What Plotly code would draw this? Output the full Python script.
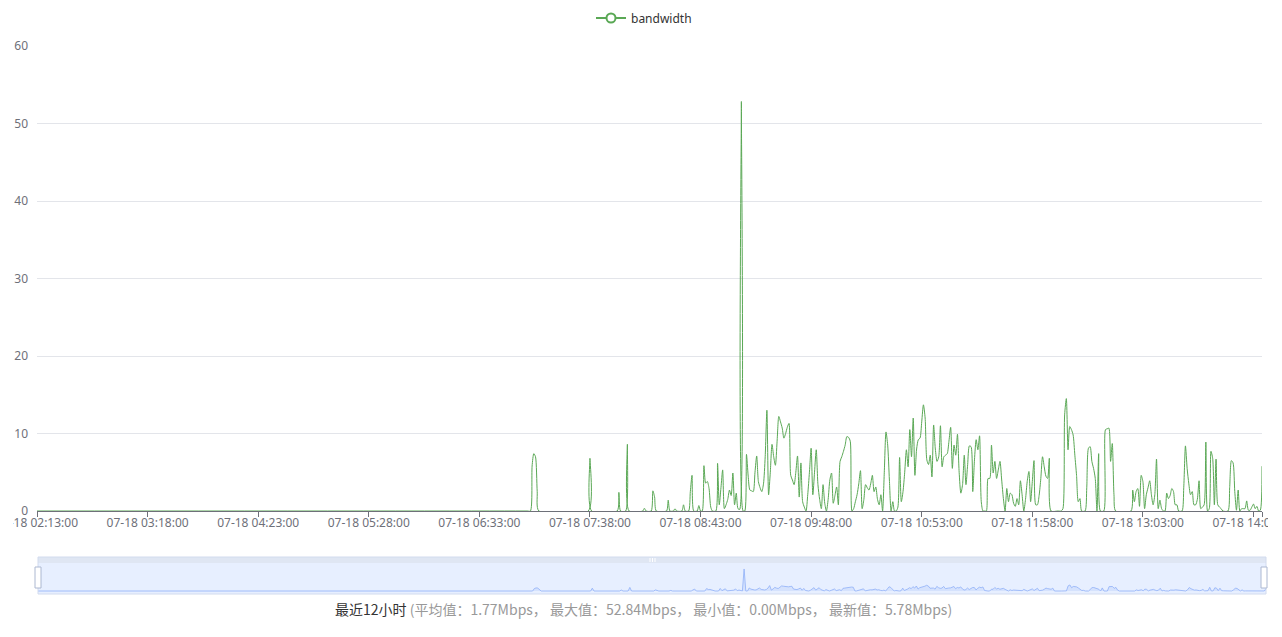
import pandas as pd
import plotly.graph_objects as go

# ---------------- data ----------------
start_time = "2023-07-18 02:13:00"
minutes = [
    0, 288, 290, 291, 292, 293, 294, 295,
    324, 325, 326, 341, 342, 343, 346, 347, 348, 356, 357, 358,
    361, 362, 363, 364, 370, 371, 372, 374, 375, 376, 379, 380, 381,
    383, 384, 385, 386, 388, 389, 390,
    391, 392, 393, 394, 395, 396, 397, 399, 400, 401, 402, 403, 404, 405,
    406, 407, 408, 409, 410, 411, 412, 413, 414, 415, 416, 417, 418, 419,
    420, 421, 422, 423, 424, 425, 426, 427, 428, 429, 430, 431, 432, 433,
    434, 435, 436, 437, 438, 439, 440, 441, 442, 443, 444, 445, 446, 447,
    448, 449, 450, 451, 452, 453, 454, 455, 456, 457, 458, 459, 460, 461,
    462, 463, 464, 465, 466, 467, 468, 469, 470, 471, 472, 473, 474, 475,
    476, 477, 478, 479, 480, 481, 482, 483, 484, 485, 486, 487, 488, 489,
    490, 491, 492, 493, 494, 495, 496, 497, 498, 499, 500, 501, 502, 503,
    504, 505, 506, 507, 508, 509, 510, 511, 512, 513, 514, 515, 516, 517,
    518, 519, 520, 521, 522, 523, 524, 525, 526, 527, 528, 529, 530, 531,
    532, 533, 534, 535, 536, 537, 538, 539, 540, 541, 542, 543, 544, 545,
    546, 547, 548, 549, 550, 551, 552, 553, 554, 555, 556, 557, 558, 559,
    560, 561, 562, 563, 564, 565, 566, 567, 568, 569, 570, 571, 572, 573,
    574, 575, 576, 577, 578, 579, 580, 581, 582, 583, 584, 585, 586, 587,
    588, 589, 590, 591, 592, 593, 594, 595, 596, 600, 602, 603, 604, 605,
    606, 607, 608, 609, 610, 611, 612, 613, 614, 616, 617, 618, 619, 620,
    621, 622, 623, 624, 625, 627, 628, 629, 630, 631, 632, 633, 634, 643,
    644, 645, 646, 647, 648, 649, 650, 651, 652, 653, 654, 655, 656, 657,
    658, 659, 660, 661, 662, 663, 664, 665, 666, 667, 668, 669, 670, 671,
    673, 674, 675, 676, 677, 678, 679, 680, 681, 682, 683, 684, 685, 686,
    687, 688, 689, 690, 691, 692, 693, 694, 695, 696, 697, 700, 701, 702,
    703, 704, 705, 706, 707, 708, 709, 710, 711, 712, 713, 714, 715, 716,
    717, 718, 719, 720,
]
bandwidth = [
    0, 0, 0, 5.8, 7.4, 7.0, 2.5, 0,
    0, 6.8, 0, 0, 2.4, 0, 0, 8.6, 0, 0, 0.35, 0,
    0, 2.6, 1.8, 0, 0, 1.4, 0, 0, 0.3, 0, 0, 0.8, 0,
    0, 2.5, 4.6, 0, 0, 0.7, 0,
    0, 5.85, 3.6, 3.8, 2.9, 0.5, 0, 0, 6.15, 0.8, 3.0, 5.3, 0.3, 0.8,
    1.5, 2.7, 2.0, 4.9, 0.8, 2.3, 0.3, 0.2, 52.84, 0, 0, 7.3, 4.5, 2.7,
    2.6, 2.5, 5.0, 7.1, 3.8, 3.0, 2.5, 3.5, 7.0, 13.0, 2.1, 5.0, 8.6, 7.0,
    5.9, 9.0, 12.2, 11.5, 10.7, 9.4, 10.0, 10.8, 11.3, 4.6, 4.0, 3.4, 5.0, 7.1,
    1.8, 6.2, 1.2, 0.5, 0, 2.1, 5.0, 8.1, 2.1, 5.0, 7.9, 3.4, 1.5, 0.3,
    3.4, 1.0, 0, 1.5, 4.0, 4.9, 1.0, 2.0, 3.1, 0.8, 6.4, 7.0, 7.7, 8.5,
    9.6, 9.5, 9.0, 0, 0.3, 1.2, 2.1, 3.5, 5.2, 0.3, 1.5, 3.4, 3.0, 2.7,
    3.5, 4.6, 2.5, 3.1, 1.5, 0.8, 2.1, 0, 5.0, 10.2, 8.5, 4.0, 0, 1.2,
    0, 0, 0.5, 6.9, 1.2, 2.5, 5.0, 7.9, 5.7, 10.5, 7.0, 12.0, 4.6, 8.0,
    9.2, 9.4, 11.5, 13.7, 12.0, 6.6, 6.0, 7.2, 4.4, 11.1, 8.0, 6.4, 7.0, 11.0,
    5.7, 7.0, 7.2, 7.4, 9.0, 10.8, 5.5, 8.5, 7.2, 9.9, 5.0, 2.3, 3.4, 7.2,
    3.4, 6.0, 8.4, 8.3, 2.5, 6.6, 9.2, 7.9, 9.7, 1.2, 0, 0, 0, 4.2,
    4.2, 8.5, 4.9, 6.4, 4.2, 5.3, 6.4, 4.0, 1.6, 0, 2.9, 1.2, 2.3, 2.1,
    1.0, 0.6, 1.6, 0.8, 3.9, 2.1, 0, 1.5, 3.8, 5.1, 1.2, 3.8, 6.5, 0.8,
    0.8, 2.0, 4.2, 7.0, 5.7, 4.5, 4.2, 6.8, 0, 0, 0, 0.3, 12.4, 14.5,
    7.9, 10.9, 10.5, 9.8, 7.2, 4.6, 1.2, 1.6, 0, 0, 3.0, 8.1, 8.3, 6.4,
    5.5, 4.2, 0, 7.4, 0, 0, 10.5, 10.6, 10.7, 6.4, 8.7, 2.1, 0, 0,
    2.7, 1.2, 2.5, 2.9, 0.6, 4.6, 3.8, 0.3, 2.1, 3.0, 3.9, 2.1, 0.8, 2.1,
    6.7, 0.3, 1.4, 0.3, 0, 0, 2.3, 1.6, 2.0, 2.9, 2.5, 0.8, 0.8, 0,
    0, 3.0, 8.4, 5.5, 3.5, 2.1, 2.5, 0.8, 0.8, 1.5, 3.9, 0.3, 0.5, 0.8,
    8.9, 0, 0.3, 7.7, 6.8, 0.8, 6.7, 0.8, 0.5, 0.3, 0, 0, 3.0, 6.5,
    6.2, 2.5, 0.1, 2.7, 0, 0.3, 0.3, 0.3, 1.3, 0.1, 0.1, 0.5, 0.9, 0.3,
    0.6, 0, 0.1, 5.78,
]
tick_minutes = [0, 65, 130, 195, 260, 325, 390, 455, 520, 585, 650, 715, 720]
tick_labels = ["07-18 02:13:00", "07-18 03:18:00", "07-18 04:23:00", "07-18 05:28:00",
               "07-18 06:33:00", "07-18 07:38:00", "07-18 08:43:00", "07-18 09:48:00",
               "07-18 10:53:00", "07-18 11:58:00", "07-18 13:03:00", "07-18 14:08:00", ""]
y_ticks = [0, 10, 20, 30, 40, 50, 60]
series_name = "bandwidth"
period_label = "最近12小时"
stat_avg, stat_max, stat_min, stat_latest = "1.77", "52.84", "0.00", "5.78"

# ---------------- build ----------------
t0 = pd.Timestamp(start_time)
times = [t0 + pd.Timedelta(minutes=m) for m in minutes]
tick_times = [t0 + pd.Timedelta(minutes=m) for m in tick_minutes]
x_range = [times[0], times[-1]]

W, H = 1282, 637
L, R, T, B = 37, 16, 46, 43        # paper spans px 37..1266 , 46..594
PW, PH = W - L - R, H - T - B


def fx(px):
    return (px - L) / PW


def fy(py):
    return (H - B - py) / PH


LINE = "#5aa855"
AXC = "#6e7079"
FONT = "Noto Sans, Noto Sans CJK SC, sans-serif"

fig = go.Figure()
fig.add_trace(go.Scatter(
    x=times, y=bandwidth, mode="lines", name=series_name, showlegend=False,
    line=dict(color=LINE, width=1, shape="spline", smoothing=0.7),
    xaxis="x", yaxis="y", hoverinfo="x+y"))
# legend entry (line + hollow circle)
fig.add_trace(go.Scatter(
    x=[None], y=[None], mode="lines+markers", name=series_name,
    line=dict(color=LINE, width=2),
    marker=dict(symbol="circle", size=9, color="#ffffff", line=dict(color=LINE, width=2)),
    xaxis="x", yaxis="y"))
# data-zoom mini chart
fig.add_trace(go.Scatter(
    x=times, y=bandwidth, mode="lines", showlegend=False, hoverinfo="skip",
    line=dict(color="#8fb0f7", width=0.8), fill="tozeroy",
    fillcolor="rgba(143,176,247,0.2)", xaxis="x2", yaxis="y2"))

shapes = [
    dict(type="rect", xref="paper", yref="paper", x0=fx(38), x1=fx(1266), y0=fy(563), y1=fy(557),
         fillcolor="rgba(210,219,238,0.7)", line=dict(width=0), layer="below"),
    dict(type="rect", xref="paper", yref="paper", x0=fx(38), x1=fx(1266), y0=fy(594), y1=fy(563),
         fillcolor="rgba(135,175,255,0.2)", line=dict(width=0), layer="below"),
    dict(type="rect", xref="paper", yref="paper", x0=fx(38), x1=fx(1266), y0=fy(594), y1=fy(557),
         fillcolor="rgba(0,0,0,0)", line=dict(color="#d2dbee", width=1), layer="above"),
    # the reference canvas clips the outermost axis labels at its edges
    dict(type="rect", xref="paper", yref="paper", x0=fx(-10), x1=fx(13), y0=fy(534), y1=fy(515),
         fillcolor="#ffffff", line=dict(width=0), layer="above"),
    dict(type="rect", xref="paper", yref="paper", x0=fx(1268), x1=fx(1295), y0=fy(534), y1=fy(515),
         fillcolor="#ffffff", line=dict(width=0), layer="above"),
]
for cx in (38, 1264):
    shapes.append(dict(type="rect", xref="paper", yref="paper",
                       x0=fx(cx - 3), x1=fx(cx + 3), y0=fy(588), y1=fy(567),
                       fillcolor="#ffffff", line=dict(color="#acb8d1", width=1), layer="above"))
for gx in (650, 652.5, 655):
    shapes.append(dict(type="line", xref="paper", yref="paper",
                       x0=fx(gx), x1=fx(gx), y0=fy(562), y1=fy(558),
                       line=dict(color="#ffffff", width=1), layer="above"))

fig.update_layout(
    width=W, height=H,
    margin=dict(l=L, r=R, t=T, b=B, pad=0, autoexpand=False),
    paper_bgcolor="#ffffff", plot_bgcolor="#ffffff",
    font=dict(family=FONT, size=12, color=AXC),
    showlegend=True,
    legend=dict(orientation="h", x=fx(644), xanchor="center", y=fy(18), yanchor="middle",
                font=dict(size=12, color="#333333"), bgcolor="rgba(0,0,0,0)",
                itemwidth=30),
    xaxis=dict(type="date", domain=[0, fx(1262)], range=x_range, anchor="y",
               tickmode="array", tickvals=tick_times, ticktext=tick_labels,
               showgrid=False, zeroline=False, showline=True, linecolor=AXC, linewidth=1,
               ticks="outside", ticklen=5, tickcolor=AXC, tickfont=dict(size=12, color=AXC),
               ticklabeloverflow="allow", ticklabelstandoff=-4,
               automargin=False, fixedrange=True),
    yaxis=dict(domain=[fy(511), 1], range=[0, 60], tickmode="array", tickvals=y_ticks,
               showgrid=True, gridcolor="#e3e5ea", gridwidth=1, zeroline=False, showline=False,
               ticks="", tickfont=dict(size=12, color=AXC), ticklabelstandoff=8,
               automargin=False, fixedrange=True, anchor="x"),
    xaxis2=dict(type="date", domain=[fx(38), 1], range=x_range, anchor="y2", visible=False,
                fixedrange=True),
    yaxis2=dict(domain=[0, fy(563)], range=[-7.2, 67.2], anchor="x2", visible=False,
                fixedrange=True),
    shapes=shapes,
    annotations=[dict(
        xref="paper", yref="paper", x=fx(643), y=fy(609), xanchor="center", yanchor="middle",
        showarrow=False, font=dict(family="Noto Sans CJK SC, sans-serif", size=14, color="#999999"),
        text=(f"<span style='color:#333333'>{period_label}</span> "
              f"(平均值：{stat_avg}Mbps， 最大值：{stat_max}Mbps， "
              f"最小值：{stat_min}Mbps， 最新值：{stat_latest}Mbps)"))],
)

fig.write_html("out.html", config={"displayModeBar": False},
               post_script="document.body.style.margin='0';document.body.style.overflow='hidden';")
